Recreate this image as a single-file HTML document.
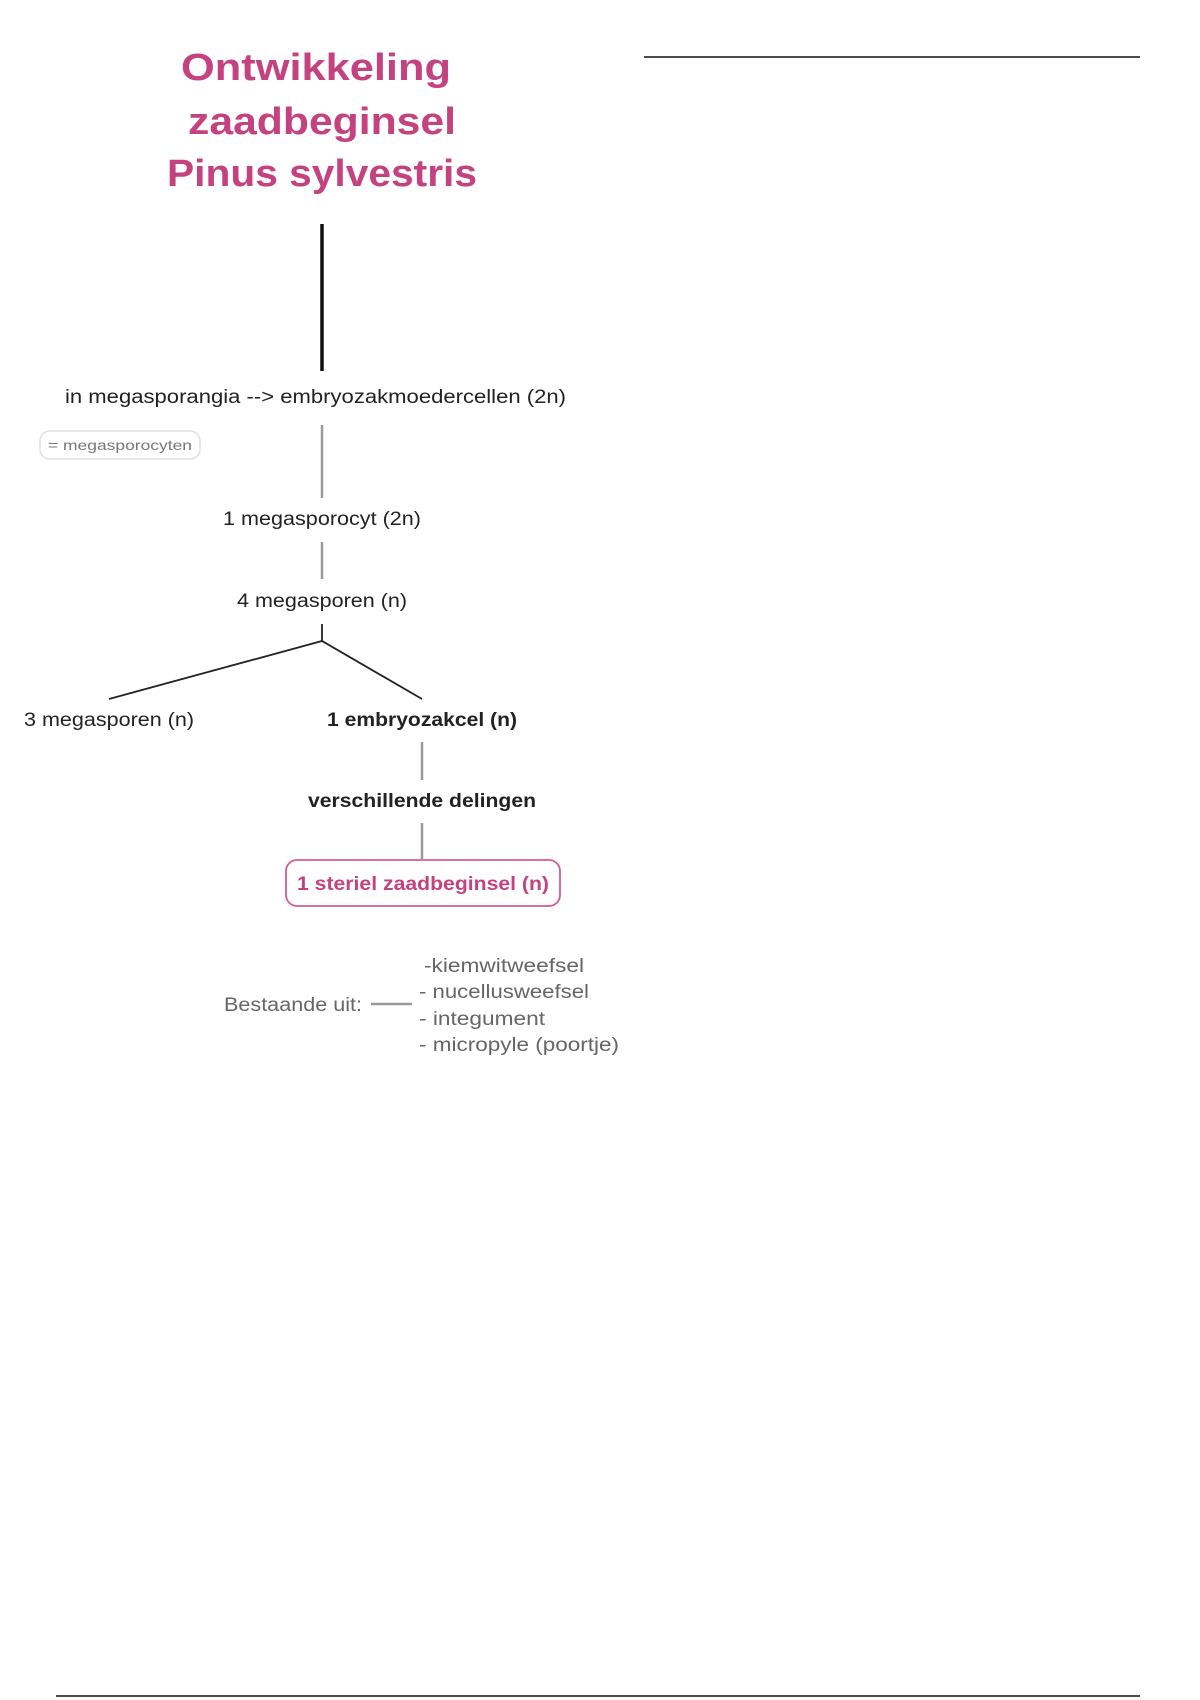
<!DOCTYPE html>
<html><head><meta charset="utf-8"><style>
html,body{margin:0;padding:0;background:#fff;}
svg{display:block}
text{font-family:"Liberation Sans",sans-serif;}
</style></head><body>
<svg width="1200" height="1700" viewBox="0 0 1200 1700" xmlns="http://www.w3.org/2000/svg">
<rect width="1200" height="1700" fill="#fff"/>
<line x1="644" y1="57" x2="1140" y2="57" stroke="#111" stroke-width="1.5"/>
<line x1="56" y1="1696" x2="1140" y2="1696" stroke="#111" stroke-width="1.5"/>
<g fill="#c4427f" font-weight="bold" font-size="38" text-anchor="middle">
<text x="316" y="80" textLength="270" lengthAdjust="spacingAndGlyphs">Ontwikkeling</text>
<text x="322" y="134" textLength="268" lengthAdjust="spacingAndGlyphs">zaadbeginsel</text>
<text x="322" y="186" textLength="310" lengthAdjust="spacingAndGlyphs">Pinus sylvestris</text>
</g>
<line x1="322" y1="224" x2="322" y2="371" stroke="#111" stroke-width="3.5"/>
<text x="65" y="403" font-size="19" fill="#222" textLength="501" lengthAdjust="spacingAndGlyphs">in megasporangia --&gt; embryozakmoedercellen (2n)</text>
<rect x="40" y="431" width="160" height="28" rx="10" fill="#fff" stroke="#e2e2e2" stroke-width="1.5"/>
<text x="48" y="450" font-size="14" fill="#777" textLength="144" lengthAdjust="spacingAndGlyphs">= megasporocyten</text>
<g stroke="#999" stroke-width="2.5">
<line x1="322" y1="425" x2="322" y2="498"/>
<line x1="322" y1="542" x2="322" y2="579"/>
<line x1="422" y1="742" x2="422" y2="780"/>
<line x1="422" y1="823" x2="422" y2="859"/>
<line x1="371" y1="1004" x2="412" y2="1004"/>
</g>
<text x="322" y="525" font-size="19" fill="#222" text-anchor="middle" textLength="198" lengthAdjust="spacingAndGlyphs">1 megasporocyt (2n)</text>
<text x="322" y="607" font-size="19" fill="#222" text-anchor="middle" textLength="170" lengthAdjust="spacingAndGlyphs">4 megasporen (n)</text>
<g stroke="#222" stroke-width="1.8" fill="none">
<line x1="322" y1="624" x2="322" y2="641"/>
<polyline points="109,699 322,641 422,699"/>
</g>
<text x="24" y="726" font-size="19" fill="#222" textLength="170" lengthAdjust="spacingAndGlyphs">3 megasporen (n)</text>
<text x="422" y="726" font-size="19" font-weight="bold" fill="#222" text-anchor="middle" textLength="190" lengthAdjust="spacingAndGlyphs">1 embryozakcel (n)</text>
<text x="422" y="807" font-size="19" font-weight="bold" fill="#222" text-anchor="middle" textLength="228" lengthAdjust="spacingAndGlyphs">verschillende delingen</text>
<rect x="286" y="860" width="274" height="46" rx="11" fill="#fff" stroke="#d45b95" stroke-width="1.8"/>
<text x="423" y="890" font-size="19" font-weight="bold" fill="#c4427f" text-anchor="middle" textLength="252" lengthAdjust="spacingAndGlyphs">1 steriel zaadbeginsel (n)</text>
<text x="224" y="1011" font-size="19" fill="#666" textLength="138" lengthAdjust="spacingAndGlyphs">Bestaande uit:</text>
<g font-size="19" fill="#666">
<text x="424" y="972" textLength="160" lengthAdjust="spacingAndGlyphs">-kiemwitweefsel</text>
<text x="419" y="998" textLength="170" lengthAdjust="spacingAndGlyphs">- nucellusweefsel</text>
<text x="419" y="1025" textLength="126" lengthAdjust="spacingAndGlyphs">- integument</text>
<text x="419" y="1051" textLength="200" lengthAdjust="spacingAndGlyphs">- micropyle (poortje)</text>
</g>
</svg>
</body></html>
